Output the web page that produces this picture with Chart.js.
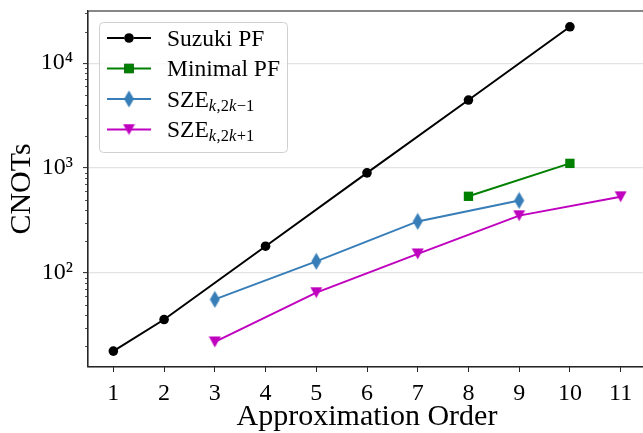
<!DOCTYPE html>
<html>
<head>
<meta charset="utf-8">
<script src="https://cdn.jsdelivr.net/npm/chart.js@4.4.1/dist/chart.umd.min.js"></script>
<style>
  html, body { margin: 0; padding: 0; overflow: hidden; background: #fff; }
  canvas { display: block; }
</style>
</head>
<body>
<canvas id="cnotChart" width="654" height="433"></canvas>
<script>
// values
const orderTicks = [1, 2, 3, 4, 5, 6, 7, 8, 9, 10, 11];
const suzukiOrders = [1, 2, 4, 6, 8, 10];
const suzukiCnots = [18, 36, 180, 900, 4450, 22200];
const minimalOrders = [8, 10];
const minimalCnots = [538, 1108];
const szeMinusOrders = [3, 5, 7, 9];
const szeMinusCnots = [56, 129, 310, 491];
const szePlusOrders = [3, 5, 7, 9, 11];
const szePlusCnots = [22, 65, 152, 352, 533];
const yMajorTicks = [100, 1000, 10000];
const seriesNames = ["Suzuki PF", "Minimal PF", "SZE", "SZE"];
// subscript pieces, alternating italic / roman
const seriesSubs = [null, null, ["k", ",2", "k", "\u22121"], ["k", ",2", "k", "+1"]];

const FONT = "Liberation Serif";
const supers = { "0": "\u2070", "1": "\u00b9", "2": "\u00b2", "3": "\u00b3", "4": "\u2074", "5": "\u2075" };

function toPoints(xs, ys) {
  return xs.map((x, i) => ({ x: x, y: ys[i] }));
}

function markerCanvas(w, h, color, path) {
  const c = document.createElement("canvas");
  c.width = w;
  c.height = h;
  const g = c.getContext("2d");
  g.fillStyle = color;
  g.beginPath();
  path(g, w, h);
  g.closePath();
  g.fill();
  return c;
}

const thinDiamond = markerCanvas(11, 18, "#377eb8", (g, w, h) => {
  g.moveTo(w / 2, 0.5);
  g.lineTo(w - 0.5, h / 2);
  g.lineTo(w / 2, h - 0.5);
  g.lineTo(0.5, h / 2);
});
const triDown = markerCanvas(13, 12, "#bf00bf", (g, w, h) => {
  g.moveTo(0.5, 0.5);
  g.lineTo(w - 0.5, 0.5);
  g.lineTo(w / 2, h - 0.5);
});

const datasets = [
  {
    label: seriesNames[0],
    data: toPoints(suzukiOrders, suzukiCnots),
    borderColor: "#000000",
    backgroundColor: "#000000",
    pointStyle: "circle",
    pointRadius: 4.8,
  },
  {
    label: seriesNames[1],
    data: toPoints(minimalOrders, minimalCnots),
    borderColor: "#008000",
    backgroundColor: "#008000",
    pointStyle: "rect",
    pointRadius: 6.6,
  },
  {
    label: "SZE_{k,2k-1}",
    data: toPoints(szeMinusOrders, szeMinusCnots),
    borderColor: "#377eb8",
    backgroundColor: "#377eb8",
    pointStyle: thinDiamond,
    pointRadius: 8,
  },
  {
    label: "SZE_{k,2k+1}",
    data: toPoints(szePlusOrders, szePlusCnots),
    borderColor: "#bf00bf",
    backgroundColor: "#bf00bf",
    pointStyle: triDown,
    pointRadius: 7,
  },
];
datasets.forEach((d) => {
  d.borderWidth = 2;
  d.pointBorderWidth = 0;
  d.tension = 0;
  d.fill = false;
});

// frame on all four sides + short minor ticks on the log axis
const framePlugin = {
  id: "frame",
  afterDatasetsDraw(chart) {
    const { ctx, chartArea: a } = chart;
    const y = chart.scales.y;
    ctx.save();
    ctx.strokeStyle = "#262626";
    ctx.lineWidth = 1.1;
    ctx.strokeRect(a.left, a.top, a.right - a.left, a.bottom - a.top);
    ctx.lineWidth = 0.8;
    ctx.beginPath();
    for (let e = 1; e <= 4; e++) {
      for (let m = 2; m <= 9; m++) {
        const v = m * Math.pow(10, e);
        if (v < y.min || v > y.max) continue;
        const py = Math.round(y.getPixelForValue(v)) + 0.5;
        ctx.moveTo(a.left, py);
        ctx.lineTo(a.left - 3, py);
      }
    }
    ctx.stroke();
    ctx.restore();
  },
};

function roundRectPath(ctx, x, y, w, h, r) {
  ctx.beginPath();
  ctx.moveTo(x + r, y);
  ctx.lineTo(x + w - r, y);
  ctx.quadraticCurveTo(x + w, y, x + w, y + r);
  ctx.lineTo(x + w, y + h - r);
  ctx.quadraticCurveTo(x + w, y + h, x + w - r, y + h);
  ctx.lineTo(x + r, y + h);
  ctx.quadraticCurveTo(x, y + h, x, y + h - r);
  ctx.lineTo(x, y + r);
  ctx.quadraticCurveTo(x, y, x + r, y);
  ctx.closePath();
}

// legend drawn by hand so the SZE labels can carry subscripts
const texLegend = {
  id: "texLegend",
  afterDraw(chart) {
    const { ctx, chartArea: a } = chart;
    const bx = a.left + 11, by = a.top + 11, bw = 188, bh = 130;
    ctx.save();
    roundRectPath(ctx, bx + 0.5, by + 0.5, bw, bh, 4);
    ctx.fillStyle = "rgba(255,255,255,0.8)";
    ctx.fill();
    ctx.strokeStyle = "#d0d0d0";
    ctx.lineWidth = 1;
    ctx.stroke();

    chart.data.datasets.forEach((ds, i) => {
      const ry = by + 16 + i * 30.5;
      const x0 = bx + 8, x1 = bx + 52, xm = (x0 + x1) / 2;
      ctx.strokeStyle = ds.borderColor;
      ctx.lineWidth = 2;
      ctx.beginPath();
      ctx.moveTo(x0, ry);
      ctx.lineTo(x1, ry);
      ctx.stroke();
      Chart.helpers.drawPoint(ctx, {
        pointStyle: ds.pointStyle,
        radius: ds.pointRadius,
        borderWidth: 0,
        rotation: 0,
      }, xm, ry);
      ctx.fillStyle = ds.backgroundColor;
      ctx.fill();

      let tx = bx + 68;
      const base = ry + 7.6;
      ctx.fillStyle = "#000";
      ctx.textBaseline = "alphabetic";
      ctx.textAlign = "left";
      ctx.font = "23.5px '" + FONT + "'";
      ctx.fillText(seriesNames[i], tx, base);
      tx += ctx.measureText(seriesNames[i]).width;
      const sub = seriesSubs[i];
      if (sub) {
        sub.forEach((piece, j) => {
          ctx.font = (j % 2 === 0 ? "italic " : "") + "16.5px '" + FONT + "'";
          ctx.fillText(piece, tx, base + 4);
          tx += ctx.measureText(piece).width + (j % 2 === 0 ? 0.5 : 0);
        });
      }
    });
    ctx.restore();
  },
};

Chart.defaults.font.family = FONT;
Chart.defaults.color = "#000";

const ctx = document.getElementById("cnotChart").getContext("2d");
new Chart(ctx, {
  type: "line",
  data: { datasets: datasets },
  options: {
    responsive: false,
    animation: false,
    events: [],
    layout: { padding: { left: 0, top: 11, right: 4.3, bottom: 0 } },
    plugins: {
      legend: { display: false },
      tooltip: { enabled: false },
    },
    scales: {
      x: {
        type: "linear",
        min: 0.5,
        max: 11.5,
        afterBuildTicks: (s) => { s.ticks = orderTicks.map((v) => ({ value: v })); },
        afterFit: (s) => { s.height = 66; s.paddingLeft = 0; s.paddingRight = 0; },
        ticks: { font: { size: 24 }, padding: 7, maxRotation: 0, autoSkip: false },
        grid: { display: true, drawOnChartArea: false, tickLength: 5, tickColor: "#262626", tickWidth: 1 },
        border: { display: true, color: "#262626", width: 1.1 },
        title: { display: true, text: "Approximation Order", font: { size: 30 }, padding: { top: 0, bottom: -2 } },
      },
      y: {
        type: "logarithmic",
        min: 12.7,
        max: 31400,
        afterBuildTicks: (s) => { s.ticks = yMajorTicks.map((v) => ({ value: v })); },
        afterFit: (s) => { s.width = 88; s.paddingTop = 0; s.paddingBottom = 0; },
        ticks: {
          font: { size: 24 },
          padding: 10,
          callback: (v) => "10" + String(Math.round(Math.log10(v))).split("").map((c) => supers[c]).join(""),
        },
        grid: { color: "#e3e3e3", lineWidth: 1.2, tickLength: 5, tickColor: "#262626", tickWidth: 1 },
        border: { display: true, color: "#262626", width: 1.1 },
        title: { display: true, text: "CNOTs", font: { size: 30 }, padding: { top: 4, bottom: 0 } },
      },
    },
  },
  plugins: [framePlugin, texLegend],
});
</script>
</body>
</html>
